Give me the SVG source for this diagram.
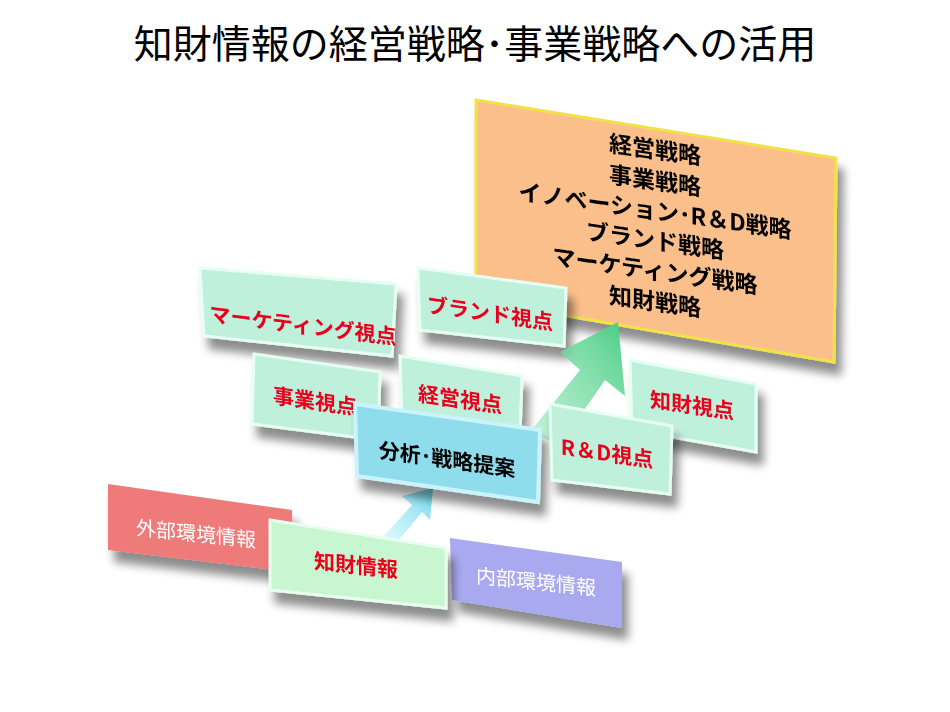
<svg xmlns="http://www.w3.org/2000/svg" width="950" height="712" viewBox="0 0 950 712">
<style>
.t{font-family:"Noto Sans CJK JP","Liberation Sans",sans-serif;font-weight:bold;text-anchor:middle}
.red{fill:#e8001c;font-size:21px}
.blk{fill:#000;font-size:21px}
.big{font-size:23px}
.wht{fill:#fff;font-size:20px;font-weight:normal}
.mint{fill:#bff0dc;stroke:#e6fff4;stroke-width:3}
</style>
<defs>
<filter id="sh" x="-20%" y="-20%" width="150%" height="160%"><feGaussianBlur in="SourceAlpha" stdDeviation="5"/><feOffset dx="6" dy="12"/><feComponentTransfer><feFuncA type="linear" slope="0.45"/></feComponentTransfer><feMerge><feMergeNode/><feMergeNode in="SourceGraphic"/></feMerge></filter>
<linearGradient id="gr" x1="0" y1="1" x2="1" y2="0"><stop offset="0" stop-color="#9ee8c0" stop-opacity="0.6"/><stop offset="1" stop-color="#4dcf86"/></linearGradient>
<linearGradient id="cy" x1="0" y1="1" x2="1" y2="0"><stop offset="0" stop-color="#c8f4fb" stop-opacity="0.5"/><stop offset="1" stop-color="#6fd8ec"/></linearGradient>
</defs>
<rect width="950" height="712" fill="#fff"/>
<text x="475" y="58" style="font-family:'Noto Sans CJK JP',sans-serif;font-size:39px;text-anchor:middle">知財情報の経営戦略･事業戦略への活用</text>

<g id="strategy" filter="url(#sh)">
<polygon points="476,100 836,158 834,362 476,300" fill="#fbbf8c" stroke="#f2e24a" stroke-width="3"/>
<g class="t blk big" transform="translate(655,0) skewY(8)">
<text x="0" y="158">経営戦略</text><text x="0" y="189">事業戦略</text><text x="0" y="219">イノベーション･R＆D戦略</text><text x="0" y="249">ブランド戦略</text><text x="0" y="279">マーケティング戦略</text><text x="0" y="310">知財戦略</text>
</g>
</g>
<g id="marketing" filter="url(#sh)"><polygon class="mint" points="200,268 396,284 392,356 204,336"/><text class="t red" transform="translate(303,333) skewY(7)">マーケティング視点</text></g>
<g id="brand" filter="url(#sh)"><polygon class="mint" points="418,268 566,288 564,346 420,330"/><text class="t red" transform="translate(490,321) skewY(8)">ブランド視点</text></g>
<g id="chizai" filter="url(#sh)"><polygon class="mint" points="630,360 756,384 756,452 632,430"/><text class="t red" transform="translate(692,413) skewY(8)">知財視点</text></g>
<g id="jigyo" filter="url(#sh)"><polygon class="mint" points="254,354 380,372 378,440 252,424"/><text class="t red" transform="translate(315,409) skewY(8)">事業視点</text></g>
<g id="keiei" filter="url(#sh)"><polygon class="mint" points="400,356 522,376 520,434 402,416"/><text class="t red" transform="translate(460,407) skewY(8)">経営視点</text></g>
<g id="connectors">
<polygon points="530,432 580,370 560,352 618,322 625,396 605,380 560,445" fill="url(#gr)"/>
<polygon points="382,538 412,505 402,496 433,488 430,520 422,512 394,546" fill="url(#cy)"/>
</g>
<g id="bunseki" filter="url(#sh)"><polygon points="355,404 540,430 538,502 357,476" fill="#8fdcec" stroke="#c9f4fb" stroke-width="4"/><text class="t blk" transform="translate(447,467) skewY(8)">分析･戦略提案</text></g>
<g id="rd" filter="url(#sh)"><polygon class="mint" points="550,404 672,426 670,494 552,480"/><text class="t red" transform="translate(607,461) skewY(8)">R＆D視点</text></g>

<g id="gaibu" filter="url(#sh)"><polygon points="108,484 292,510 292,572 108,550" fill="#ef7a7a"/><text class="t wht" transform="translate(196,541) skewY(6)">外部環境情報</text></g>
<g id="naibu" filter="url(#sh)"><polygon points="450,538 622,562 622,628 452,600" fill="#a9a9f0"/><text class="t wht" transform="translate(536,589) skewY(6)">内部環境情報</text></g>
<g id="chizaijoho" filter="url(#sh)"><polygon points="270,520 446,548 446,608 270,590" fill="#c8f6d0" stroke="#e8fff0" stroke-width="3"/><text class="t red" transform="translate(356,573) skewY(6)">知財情報</text></g>
</svg>
